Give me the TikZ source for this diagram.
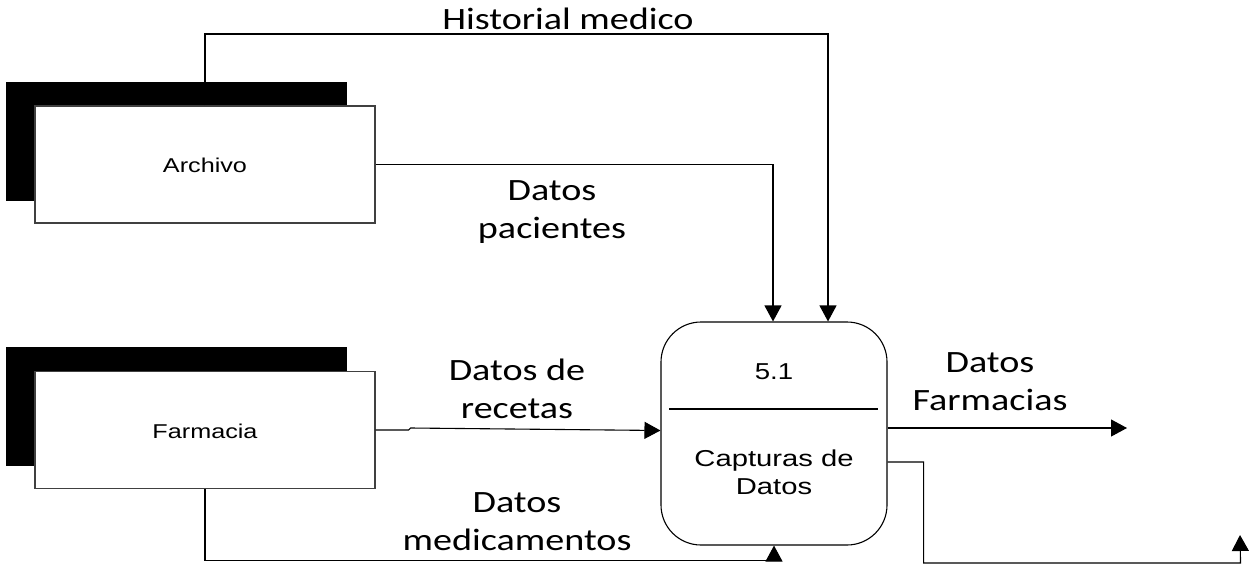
\documentclass[tikz,border=0pt]{standalone}
\usepackage{fontspec}
\usepackage{graphicx}
\setmainfont{Carlito}
\newfontfamily\arialf{Liberation Sans}
\usetikzlibrary{calc,arrows.meta}
\newcommand\wlab[2][1.23]{\scalebox{#1}[1]{\begin{tabular}{@{}c@{}}#2\end{tabular}}}
\tikzset{
  flow/.style={line width=1.1pt, draw=black, -{Triangle[length=16pt,width=17pt]}},
  plain/.style={line width=1.1pt, draw=black},
  shadowbox/.style={rectangle, fill=black, draw=black, minimum width=340pt, minimum height=118pt, inner sep=0pt},
  entity/.style={rectangle, fill=white, draw=black!75, line width=1.1pt, minimum width=340pt, minimum height=117pt, inner sep=0pt, font=\arialf\fontsize{20}{24}\selectfont},
  procbox/.style={rectangle, rounded corners=40pt, draw=black, line width=1.1pt, minimum width=226pt, minimum height=223pt, inner sep=0pt},
  proctext/.style={font=\arialf\fontsize{23}{28}\selectfont, inner sep=0pt},
  lbl/.style={font=\fontsize{31}{38}\selectfont, inner sep=0pt},
  boxlbl/.style={font=\arialf\fontsize{20}{24}\selectfont, inner sep=0pt}
}
\begin{document}
\begin{tikzpicture}[x=1pt,y=-1pt]
\useasboundingbox[fill=white] (0,0) rectangle (1252,565);
% entities
\node[shadowbox] (archivoS) at (176,141) {};
\node[entity] (archivo) at (205,164.5) {};
\node[boxlbl] (archivoT) at ($(archivo.center)+(0,3.5)$) {\wlab[1.26]{Archivo}};
\node[shadowbox] (farmaciaS) at (176,406) {};
\node[entity] (farmacia) at (205,430) {};
\node[boxlbl] (farmaciaT) at ($(farmacia.center)+(0,3.5)$) {\wlab[1.26]{Farmacia}};
% process
\node[procbox] (proc) at (774,433.5) {};
\node[proctext] (pnum) at ($(proc.center)+(0,-60)$) {\wlab[1.2]{5.1}};
\draw[plain] ($(proc.center)+(-105,-24.5)$) -- ($(proc.center)+(104,-24.5)$);
\node[proctext] (pname) at ($(proc.center)+(0,41)$) {\wlab[1.27]{Capturas de\\Datos}};
% connectors
\coordinate (hmR) at (828,34);
\draw[flow] (archivo.north) |- (hmR) -- ($(proc.north)+(54,0)$);
\draw[flow] (archivo.east) -| ($(proc.north)+(-1,0)$);
\draw[flow] (farmacia.east) -- ++(33,0) -- ++(2,-2) -- ([yshift=3pt]proc.west);
\draw[flow] (farmacia.south) -- ++(0,71) -| (proc.south);
\coordinate (outA) at (1127,428);
\draw[flow] ([yshift=5.5pt]proc.east) -- (outA);
\coordinate (outB) at (1240,535);
\draw[flow] ([yshift=-28.5pt]proc.east) -- ++(36,0) -- ++(0,101) -- ++(317,0) -- (outB);
% labels
\node[lbl] (lhm) at (568,22) {\wlab{Historial medico}};
\node[lbl] (lpac) at (552,212) {\wlab{Datos\\pacientes}};
\node[lbl] (lrec) at (517,392) {\wlab{Datos de\\recetas}};
\node[lbl] (lmed) at (517,524) {\wlab{Datos\\medicamentos}};
\node[lbl] (lfar) at (990,384) {\wlab{Datos\\Farmacias}};
\end{tikzpicture}
\end{document}
